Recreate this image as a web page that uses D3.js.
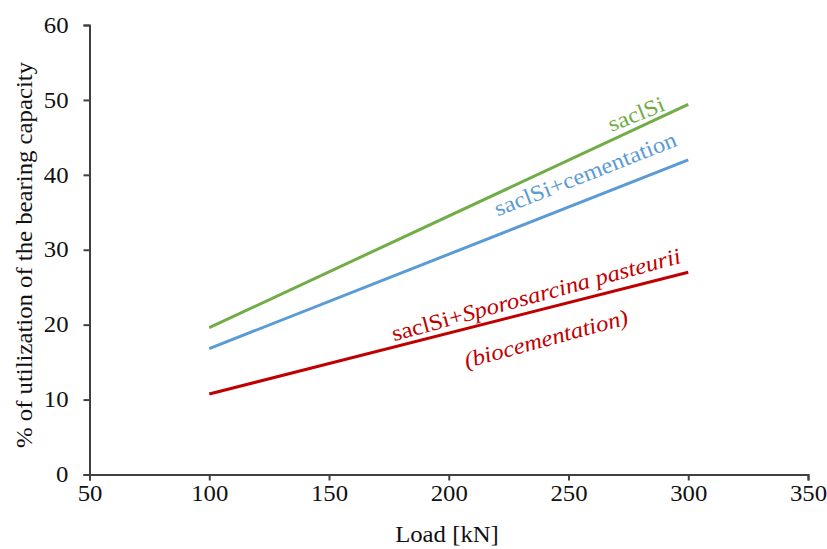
<!DOCTYPE html>
<html><head><meta charset="utf-8">
<script src="https://cdn.jsdelivr.net/npm/d3@7"></script>
</head><body style="margin:0"><svg id="c" width="827" height="549"></svg>
<script>
const loads = [100, 300];
const seriesNames = ["saclSi", "saclSi+cementation", "saclSi+Sporosarcina pasteurii (biocementation)"];
const saclSi = [19.6, 49.4];
const cementation = [16.8, 42.0];
const biocementation = [10.75, 27.0];
const xTicks = [50, 100, 150, 200, 250, 300, 350];
const yTicks = [0, 10, 20, 30, 40, 50, 60];
const colors = ["#70ad47", "#5b9bd5", "#c00000"];
const FONT = "Liberation Serif, Tinos, Times New Roman, Times, serif";
const FS = 22.5, SX = 1.1;

const svg = d3.select("#c");
const x = d3.scaleLinear().domain([50, 350]).range([89.5, 808]);
const y = d3.scaleLinear().domain([0, 60]).range([474.5, 25]);

const xa = svg.append("g").attr("transform", `translate(0,${y(0)})`)
  .call(d3.axisBottom(x).tickValues(xTicks).tickSize(6).tickPadding(5).tickFormat(d3.format("d")));
const ya = svg.append("g").attr("transform", `translate(${x(50)},0)`)
  .call(d3.axisLeft(y).tickValues(yTicks).tickSize(6).tickPadding(15).tickFormat(d3.format("d")));
[xa, ya].forEach(a => {
  a.attr("font-family", null).attr("font-size", null);
  a.select(".domain").attr("stroke", "#404040").attr("stroke-width", 2);
  a.selectAll(".tick line").attr("stroke", "#404040").attr("stroke-width", 2);
  a.selectAll(".tick text").attr("fill", "#111").attr("font-family", FONT).attr("font-size", FS);
});
xa.selectAll(".tick text").attr("transform", `scale(${SX},1)`);
ya.selectAll(".tick text").each(function() {
  const t = d3.select(this), xx = +t.attr("x");
  t.attr("transform", `translate(${xx},0) scale(${SX},1)`).attr("x", 0);
});

svg.append("text").attr("transform", `translate(447,542) scale(${SX},1)`).attr("text-anchor", "middle")
  .attr("font-family", FONT).attr("font-size", FS).attr("fill", "#111").text("Load [kN]");
svg.append("text").attr("transform", `translate(32,255) rotate(-90) scale(${SX},1)`).attr("text-anchor", "middle")
  .attr("font-family", FONT).attr("font-size", FS).attr("fill", "#111").text("% of utilization of the bearing capacity");

const series = [saclSi, cementation, biocementation];
const line = d3.line().x((d, i) => x(loads[i])).y(d => y(d));
series.forEach((s, k) => {
  svg.append("path").datum(s).attr("d", line).attr("fill", "none")
    .attr("stroke", colors[k]).attr("stroke-width", 3);
});

function angle(s) {
  const dx = x(loads[1]) - x(loads[0]), dy = y(s[1]) - y(s[0]);
  return Math.atan2(dy, dx) * 180 / Math.PI;
}
function label(tx, ty, rot, col) {
  return svg.append("text").attr("transform", `translate(${tx},${ty}) rotate(${rot}) scale(${SX},1)`)
    .attr("text-anchor", "middle").attr("font-family", FONT).attr("font-size", FS).attr("fill", col);
}
label(639, 121, angle(saclSi) + 3, colors[0]).text("saclSi");
label(588, 181, angle(cementation), colors[1]).text("saclSi+cementation");
const t3 = label(538, 302, angle(biocementation) - 1, colors[2]);
t3.append("tspan").text("saclSi+");
t3.append("tspan").attr("font-style", "italic").text("Sporosarcina pasteurii");
label(548, 346, angle(biocementation) - 1, colors[2]).attr("font-style", "italic").text("(biocementation)");
</script></body></html>
